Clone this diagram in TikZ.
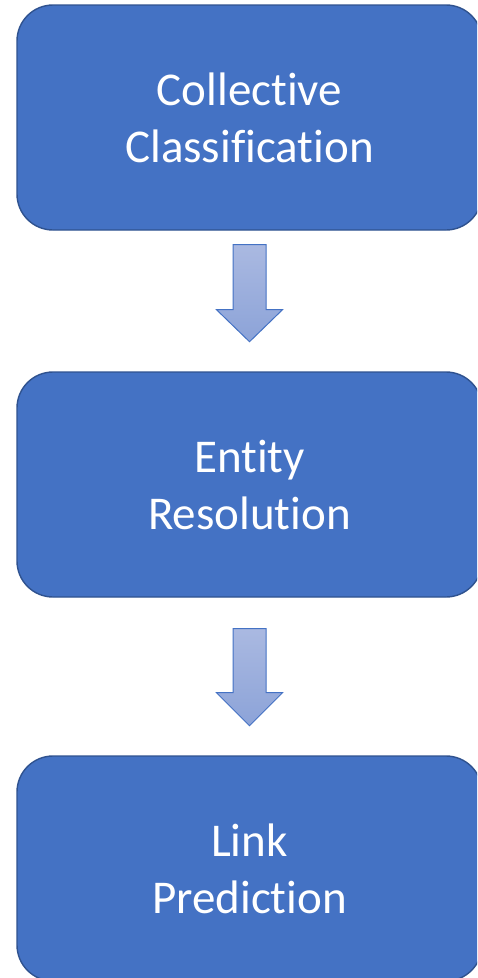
\documentclass[tikz,border=0pt]{standalone}
\usepackage{fontspec}
\setmainfont{Carlito}[Ligatures={NoCommon,NoRare,NoContextual}]
\usetikzlibrary{calc}
\definecolor{boxfill}{HTML}{4472C4}
\definecolor{boxline}{HTML}{2F528F}
\definecolor{arrtop}{HTML}{AAB9E1}
\definecolor{arrbot}{HTML}{8CA3D8}
\definecolor{arrline}{HTML}{4472C4}
\tikzset{
  stagebox/.style={rectangle, rounded corners=36pt, fill=boxfill, draw=boxline, line width=1.4pt,
    minimum width=465pt, minimum height=225pt, inner sep=0pt, align=center, text=white,
    font=\fontsize{47pt}{57pt}\selectfont},
  blockarrow/.style={draw=arrline, line width=1pt, top color=arrtop, bottom color=arrbot}
}
\begin{document}
\begin{tikzpicture}[x=1pt,y=-1pt]
\useasboundingbox (0,0) rectangle (477,978);
\clip (0,0) rectangle (477,978);
\node[stagebox] (b1) at (249.5,117.5) {Collective\\Classification};
\node[stagebox] (b2) at (249.5,484.5) {Entity\\Resolution};
\node[stagebox] (b3) at (249.5,868.5) {Link\\Prediction};
\begin{scope}[shift={(b1.south)}]
  \coordinate (arr1) at (0,111);
  \path[blockarrow] (-16.5,14) -- (16.5,14) -- (16.5,79) -- (33,79) -- (arr1) -- (-33,79) -- (-16.5,79) -- cycle;
\end{scope}
\begin{scope}[shift={(b2.south)}]
  \coordinate (arr2) at (0,128);
  \path[blockarrow] (-16.5,31) -- (16.5,31) -- (16.5,95) -- (33,95) -- (arr2) -- (-33,95) -- (-16.5,95) -- cycle;
\end{scope}
\end{tikzpicture}
\end{document}
